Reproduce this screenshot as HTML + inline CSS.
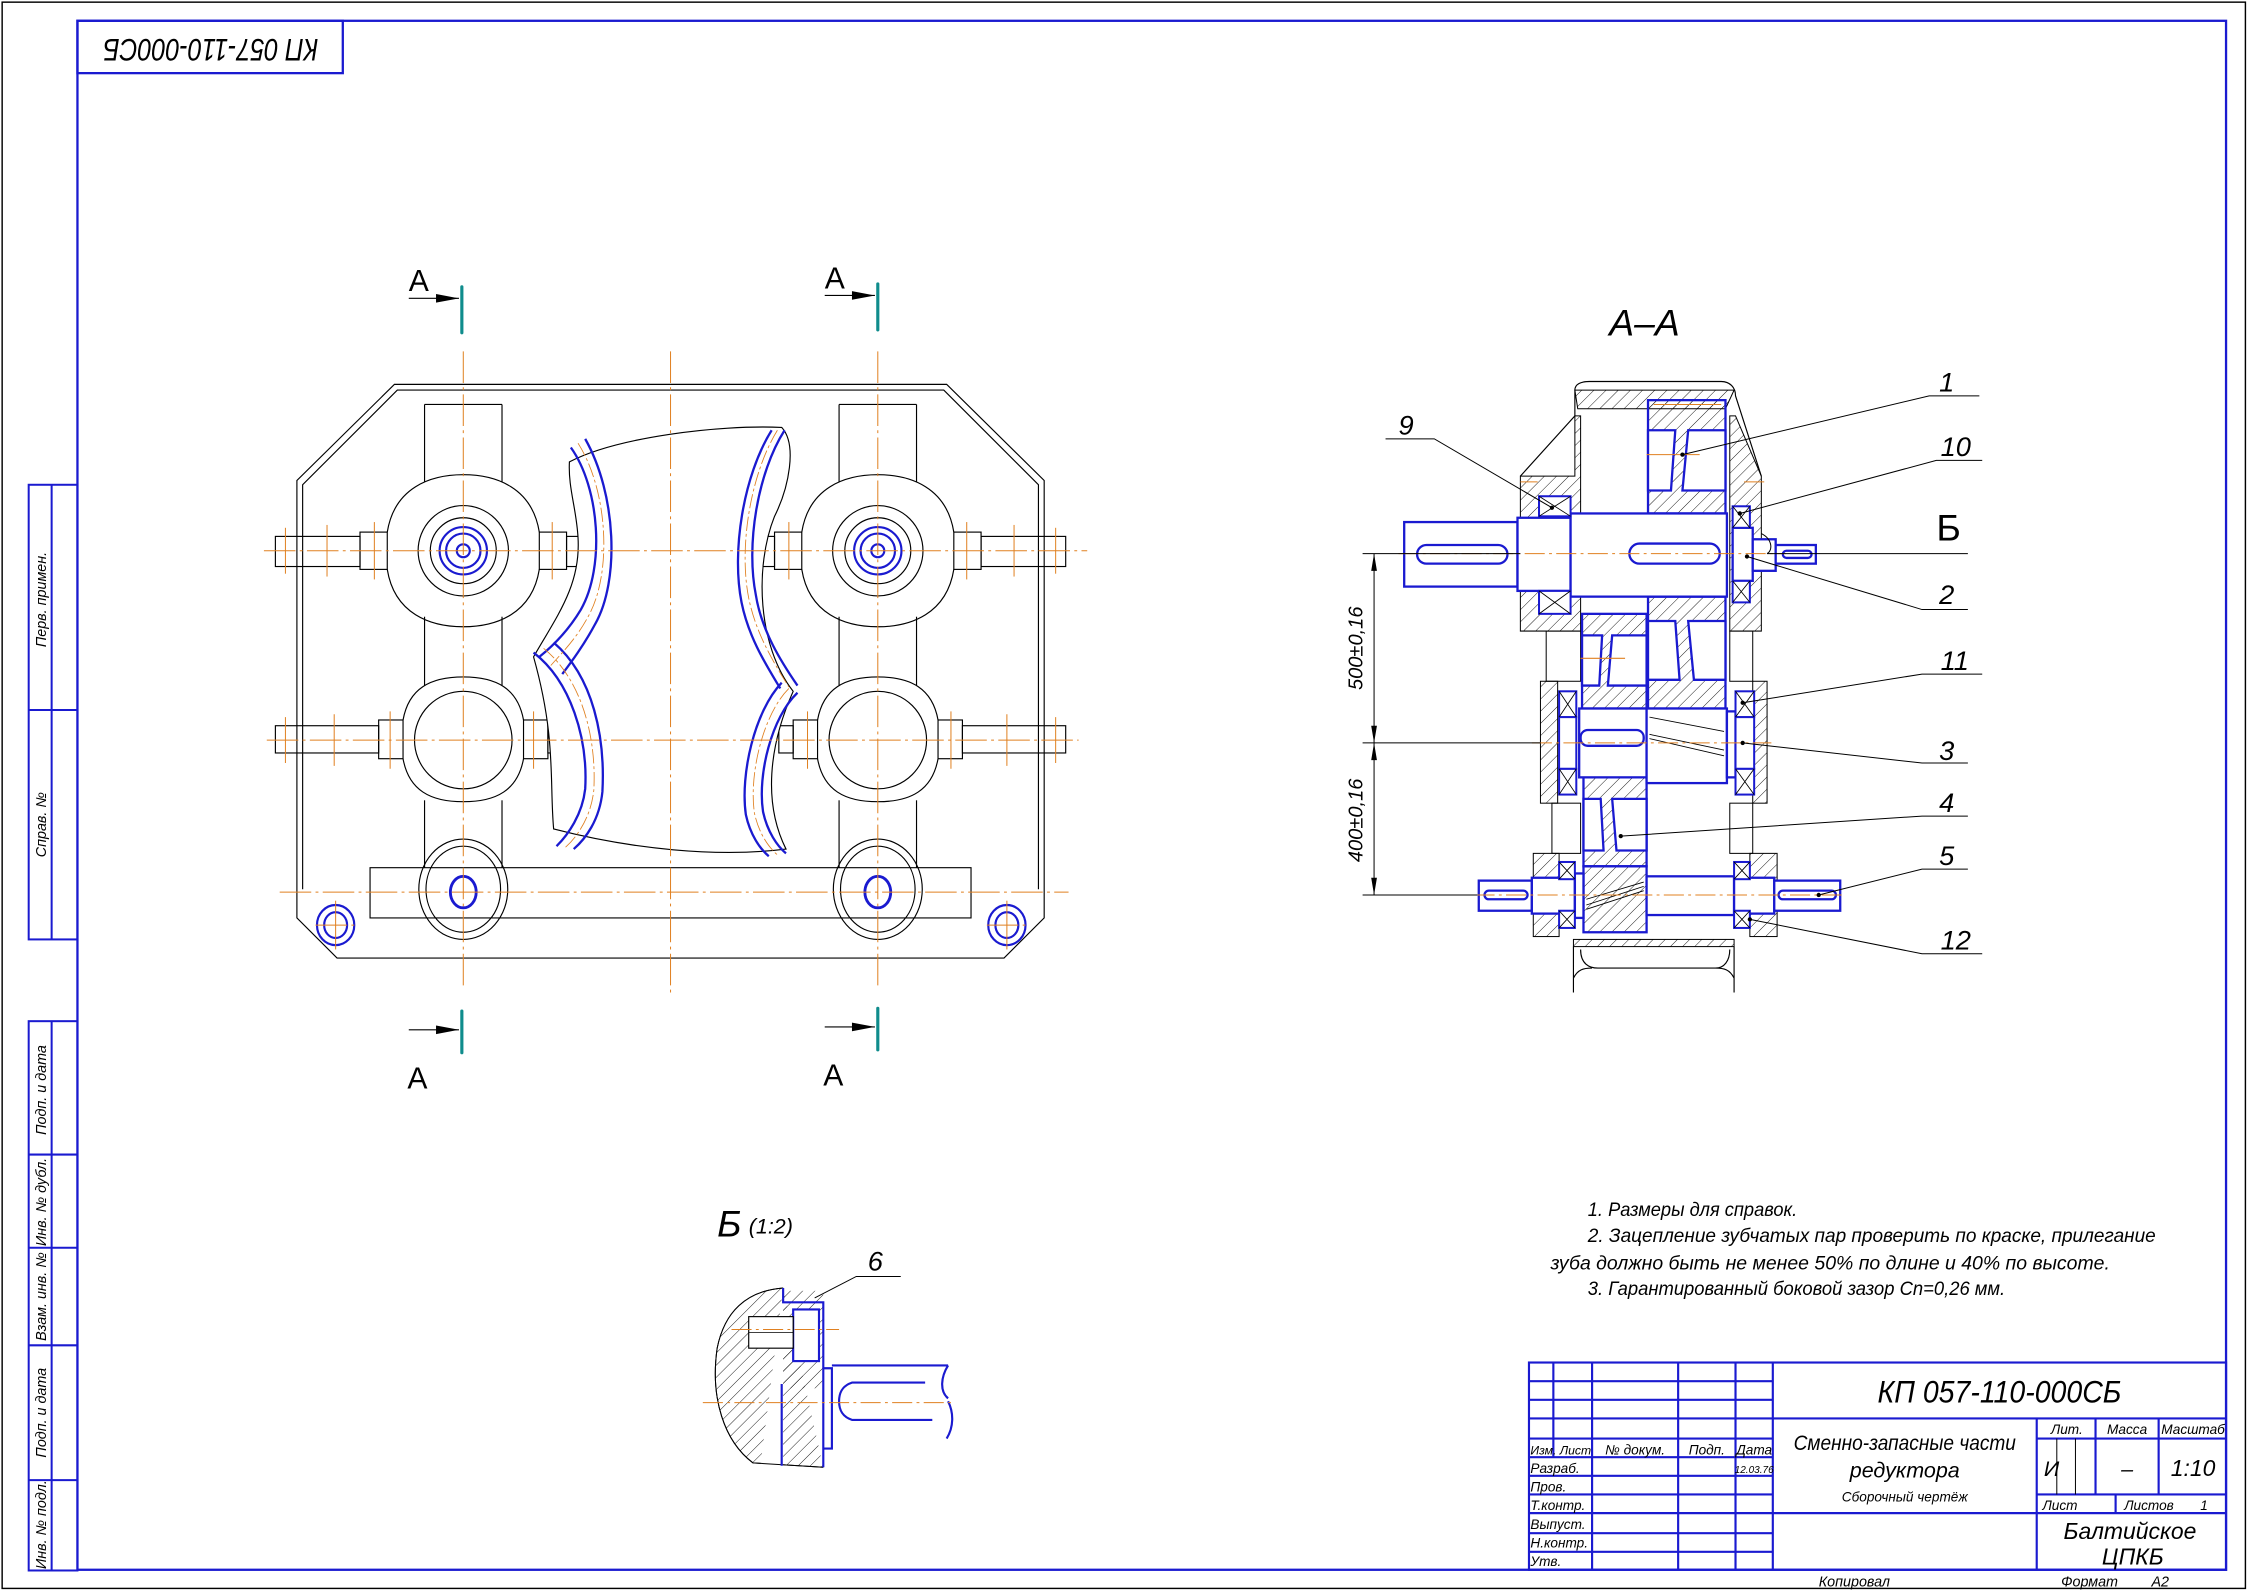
<!DOCTYPE html>
<html><head><meta charset="utf-8"><style>
html,body{margin:0;padding:0;background:#fff}
svg{display:block}
text{font-family:"Liberation Sans","DejaVu Sans",sans-serif;font-style:italic;fill:#000}
</style></head><body>
<svg width="2249" height="1592" viewBox="0 0 1568 1110" preserveAspectRatio="none" xmlns="http://www.w3.org/2000/svg">
<defs>
<pattern id="h" width="6" height="6" patternUnits="userSpaceOnUse" patternTransform="rotate(45)"><line x1="0" y1="0" x2="0" y2="6" stroke="#000" stroke-width="0.6"/></pattern>
</defs>
<rect x="0" y="0" width="1568" height="1110" fill="#fff"/>
<rect x="1.5" y="1.5" width="1564" height="1106" fill="none" stroke="#000" stroke-width="1"/>
<rect x="54" y="14.5" width="1498" height="1080" fill="none" stroke="#1a1ad0" stroke-width="1.6"/>
<rect x="54" y="14.5" width="185" height="36.5" fill="none" stroke="#1a1ad0" stroke-width="1.6"/>
<text transform="translate(147,33) rotate(180)" font-size="22" text-anchor="middle" dominant-baseline="middle" textLength="150" lengthAdjust="spacingAndGlyphs">КП 057-110-000СБ</text>

<g stroke="#1a1ad0" stroke-width="1.4" fill="none">
<rect x="20" y="338" width="34" height="317"/>
<line x1="36" y1="338" x2="36" y2="655"/>
<line x1="20" y1="495" x2="54" y2="495"/>
<rect x="20" y="712" width="34" height="383"/>
<line x1="36" y1="712" x2="36" y2="1095"/>
<line x1="20" y1="805" x2="54" y2="805"/>
<line x1="20" y1="870" x2="54" y2="870"/>
<line x1="20" y1="938" x2="54" y2="938"/>
<line x1="20" y1="1032" x2="54" y2="1032"/>
</g>
<g font-size="10">
<text transform="translate(32,418) rotate(-90)" text-anchor="middle">Перв. примен.</text>
<text transform="translate(32,575) rotate(-90)" text-anchor="middle">Справ. №</text>
<text transform="translate(32,760) rotate(-90)" text-anchor="middle">Подп. и дата</text>
<text transform="translate(32,838) rotate(-90)" text-anchor="middle">Инв. № дубл.</text>
<text transform="translate(32,904) rotate(-90)" text-anchor="middle">Взам. инв. №</text>
<text transform="translate(32,985) rotate(-90)" text-anchor="middle">Подп. и дата</text>
<text transform="translate(32,1063) rotate(-90)" text-anchor="middle">Инв. № подл.</text>
</g>

<!-- FRONT VIEW -->
<g id="half" fill="none" stroke="#000" stroke-width="0.8">
 <polyline points="467.5,268 275,268 207,335 207,640 235,668 467.5,668"/>
 <polyline points="467.5,272 277,272 211,338 211,620"/>
 <line x1="296" y1="282" x2="296" y2="336"/><line x1="350" y1="282" x2="350" y2="336"/>
 <line x1="296" y1="282" x2="350" y2="282"/>
 <line x1="296" y1="430" x2="296" y2="478"/><line x1="350" y1="430" x2="350" y2="478"/>
 <line x1="296" y1="558" x2="296" y2="605"/><line x1="350" y1="558" x2="350" y2="605"/>
 <path d="M270,371 C275,340 300,331 323,331 C346,331 371,340 376,371 M376,397 C371,428 346,437 323,437 C300,437 275,428 270,397"/>
 <rect x="251" y="371" width="19" height="26"/>
 <rect x="192" y="374" width="59" height="21"/>
 <rect x="376" y="371" width="19" height="26"/>
 <rect x="395" y="374" width="15" height="21"/>
 <circle cx="323" cy="384" r="31.5"/><circle cx="323" cy="384" r="23"/>
 <path d="M281,502 C285,480 300,472 323,472 C346,472 361,480 365,502 M365,529 C361,551 346,559 323,559 C300,559 285,551 281,529"/>
 <ellipse cx="323" cy="516" rx="34" ry="34"/>
 <rect x="264" y="502" width="17" height="27"/>
 <rect x="192" y="506" width="72" height="19"/>
 <rect x="365" y="502" width="17" height="27"/>
 <rect x="382" y="506" width="10" height="19"/>
 <polyline points="467.5,605 258,605 258,640 467.5,640"/>
 <ellipse cx="323" cy="620" rx="31" ry="35"/>
 <ellipse cx="323" cy="620" rx="26" ry="30"/>
</g>
<use href="#half" transform="matrix(-1 0 0 1 935 0)"/>
<g fill="none" stroke="#1a1ad0" stroke-width="1.5">
 <circle cx="323" cy="384" r="16.5"/><circle cx="323" cy="384" r="12"/><circle cx="323" cy="384" r="4.5"/>
 <circle cx="612" cy="384" r="16.5"/><circle cx="612" cy="384" r="12"/><circle cx="612" cy="384" r="4.5"/>
 <ellipse cx="323" cy="622" rx="9" ry="11" stroke-width="2"/>
 <ellipse cx="612" cy="622" rx="9" ry="11" stroke-width="2"/>
 <ellipse cx="234" cy="645" rx="13" ry="14"/><ellipse cx="234" cy="645" rx="8" ry="9"/>
 <ellipse cx="702" cy="645" rx="13" ry="14"/><ellipse cx="702" cy="645" rx="8" ry="9"/>
</g>
<!-- torn window -->
<path d="M397,322 C430,305 500,296 545,298 C556,310 550,340 540,360 C526,395 528,450 553,482 C536,520 532,560 548,592 C500,598 440,592 386,578 C383,545 388,515 372,458 C388,430 405,408 403,375 C402,355 396,340 397,322 Z" fill="#fff" stroke="#000" stroke-width="0.8"/>
<g fill="none" stroke="#1a1ad0" stroke-width="1.6">
 <path d="M398,312 C418,340 422,395 405,425 C396,440 386,450 376,458"/>
 <path d="M408,306 C430,345 432,405 415,435 C407,450 398,462 392,470"/>
 <path d="M372,455 C398,475 410,515 408,550 C406,568 396,582 388,590"/>
 <path d="M386,448 C414,472 422,515 420,552 C418,572 408,585 400,592"/>
 <path d="M547,300 C528,330 520,380 527,415 C531,440 545,462 556,478"/>
 <path d="M538,300 C518,332 510,385 517,420 C522,445 535,465 544,480"/>
 <path d="M556,483 C538,500 528,540 532,566 C535,580 542,590 548,595"/>
 <path d="M545,476 C526,496 516,540 520,568 C523,582 530,592 536,597"/>
</g>
<g fill="none" stroke="#e08020" stroke-width="0.6" stroke-dasharray="10 2 2 2">
 <path d="M403,309 C424,342 427,400 410,430 C402,445 392,455 384,464"/>
 <path d="M379,452 C406,474 416,515 414,551 C412,570 402,584 394,591"/>
 <path d="M542,300 C523,331 515,382 522,417 C527,442 540,463 550,479"/>
 <path d="M550,480 C532,498 522,540 526,567 C529,581 536,591 542,596"/>
</g>
<g stroke="#e08020" stroke-width="0.7" stroke-dasharray="22 3 2 3">
 <line x1="323" y1="245" x2="323" y2="690"/>
 <line x1="467.5" y1="245" x2="467.5" y2="692"/>
 <line x1="612" y1="245" x2="612" y2="690"/>
 <line x1="184" y1="384" x2="758" y2="384"/>
 <line x1="186" y1="516" x2="752" y2="516"/>
 <line x1="195" y1="622" x2="745" y2="622"/>
 <line x1="220" y1="645" x2="250" y2="645"/>
 <line x1="688" y1="645" x2="718" y2="645"/>
</g>
<g stroke="#e08020" stroke-width="0.7">
 <line x1="199" y1="368" x2="199" y2="400"/><line x1="228" y1="366" x2="228" y2="402"/><line x1="261" y1="364" x2="261" y2="404"/>
 <line x1="385" y1="364" x2="385" y2="404"/>
 <line x1="736" y1="368" x2="736" y2="400"/><line x1="707" y1="366" x2="707" y2="402"/><line x1="674" y1="364" x2="674" y2="404"/>
 <line x1="550" y1="364" x2="550" y2="404"/>
 <line x1="199" y1="500" x2="199" y2="532"/><line x1="233" y1="498" x2="233" y2="534"/><line x1="272" y1="496" x2="272" y2="536"/><line x1="372" y1="496" x2="372" y2="536"/>
 <line x1="736" y1="500" x2="736" y2="532"/><line x1="702" y1="498" x2="702" y2="534"/><line x1="663" y1="496" x2="663" y2="536"/><line x1="563" y1="496" x2="563" y2="536"/>
 <line x1="234" y1="628" x2="234" y2="662"/><line x1="702" y1="628" x2="702" y2="662"/>
</g>
<g stroke="#0f8c8c" stroke-width="2.2" stroke-linecap="round">
 <line x1="322" y1="200" x2="322" y2="232"/><line x1="612" y1="198" x2="612" y2="230"/>
 <line x1="322" y1="705" x2="322" y2="734"/><line x1="612" y1="703" x2="612" y2="732"/>
</g>
<g stroke="#000" stroke-width="0.8">
 <line x1="285" y1="208" x2="320" y2="208"/><line x1="575" y1="206" x2="610" y2="206"/>
 <line x1="285" y1="718" x2="320" y2="718"/><line x1="575" y1="716" x2="610" y2="716"/>
</g>
<g fill="#000">
 <polygon points="320,208 304,205 304,211"/><polygon points="610,206 594,203 594,209"/>
 <polygon points="320,718 304,715 304,721"/><polygon points="610,716 594,713 594,719"/>
</g>
<g font-size="21">
 <text x="285" y="203" style="font-style:normal">А</text><text x="575" y="201" style="font-style:normal">А</text>
 <text x="284" y="759" style="font-style:normal">А</text><text x="574" y="757" style="font-style:normal">А</text>
</g>

<!-- SECTION A-A -->
<text x="1122" y="234" font-size="26">А–А</text>
<g fill="url(#h)" stroke="#000" stroke-width="0.7">
 <path d="M1098,272 L1100,285 L1203,285 L1209,272 Z"/>
 <path d="M1060,332 L1098,332 L1098,290 L1102,290 L1102,440 L1060,440 Z"/>
 <path d="M1206,290 L1210,290 L1228,332 L1228,440 L1206,440 Z"/>
 <rect x="1074" y="475" width="12" height="85"/>
 <rect x="1222" y="475" width="10" height="85"/>
 <rect x="1069" y="595" width="18" height="58"/>
 <rect x="1220" y="595" width="19" height="58"/>
 <rect x="1097" y="655" width="112" height="5"/>
 <rect x="1078" y="440" width="24" height="35" fill="none"/>
 <rect x="1206" y="440" width="16" height="35" fill="none"/>
 <rect x="1082" y="560" width="20" height="35" fill="none"/>
 <rect x="1206" y="560" width="16" height="35" fill="none"/>
</g>
<path d="M1060,332 L1098,290 L1098,272 C1098,268 1102,266 1108,266 L1200,266 C1206,266 1210,270 1210,276 L1228,332" fill="none" stroke="#000" stroke-width="0.8"/>
<path d="M1097,660 L1097,692 M1209,660 L1209,692 M1102,662 C1102,672 1108,675 1114,675 L1196,675 C1202,675 1206,670 1206,662 M1097,682 C1100,676 1104,675 1110,675 M1209,682 C1206,676 1202,675 1196,675" fill="none" stroke="#000" stroke-width="0.8"/>
<g fill="url(#h)" stroke="#1a1ad0" stroke-width="1.6">
 <rect x="1149" y="279" width="54" height="79"/>
 <rect x="1103" y="428" width="45" height="66"/>
 <rect x="1149" y="416" width="54" height="78"/>
 <rect x="1104" y="542" width="44" height="62"/>
 <rect x="1104" y="604" width="44" height="46"/>
</g>
<g fill="#fff" stroke="#1a1ad0" stroke-width="1.6">
 <path d="M1149,300 L1168,300 L1165,342 L1149,342 Z"/>
 <path d="M1177,300 L1203,300 L1203,342 L1173,342 Z"/>
 <path d="M1103,443 L1117,443 L1115,478 L1103,478 Z"/>
 <path d="M1124,443 L1148,443 L1148,478 L1121,478 Z"/>
 <path d="M1149,433 L1168,433 L1171,474 L1149,474 Z"/>
 <path d="M1177,433 L1203,433 L1203,474 L1181,474 Z"/>
 <path d="M1104,557 L1116,557 L1118,593 L1104,593 Z"/>
 <path d="M1124,557 L1148,557 L1148,593 L1127,593 Z"/>
 <rect x="979" y="364" width="79" height="45"/>
 <rect x="1058" y="361" width="37" height="51"/>
 <rect x="1095" y="358" width="109" height="58"/>
 <rect x="1208" y="368" width="14" height="37"/>
 <rect x="1222" y="376" width="16" height="22"/>
 <rect x="1238" y="380" width="28" height="13"/>
 <rect x="1101" y="494" width="47" height="48"/>
 <rect x="1148" y="494" width="56" height="52"/>
 <rect x="1204" y="496" width="6" height="46"/>
 <rect x="1031" y="614" width="37" height="21"/>
 <rect x="1068" y="612" width="30" height="25"/>
 <rect x="1098" y="609" width="6" height="31"/>
 <rect x="1148" y="611" width="61" height="27"/>
 <rect x="1209" y="612" width="28" height="25"/>
 <rect x="1237" y="614" width="46" height="21"/>
</g>
<g fill="none" stroke="#1a1ad0" stroke-width="1.6">
 <rect x="988" y="380" width="63" height="13" rx="6.5"/>
 <rect x="1136" y="379" width="63" height="14" rx="7"/>
 <rect x="1102" y="509" width="44" height="11" rx="5"/>
 <rect x="1035" y="621" width="30" height="6" rx="3"/>
 <rect x="1240" y="621" width="40" height="6" rx="3"/>
 <rect x="1243" y="384" width="20" height="5" rx="2.5"/>
</g>
<g stroke="#000" stroke-width="0.6" fill="none">
 <path d="M1150,500 L1202,510 M1150,512 L1202,523 M1150,515 L1202,527"/>
 <path d="M1106,631 L1146,618 M1106,634 L1146,621 M1106,627 L1146,615"/>
</g>
<g fill="#fff" stroke="#1a1ad0" stroke-width="1.4">
 <rect x="1073" y="346" width="22" height="14"/><rect x="1073" y="412" width="22" height="16"/>
 <rect x="1208" y="353" width="12" height="15"/><rect x="1208" y="405" width="12" height="15"/>
 <rect x="1087" y="482" width="12" height="18"/><rect x="1087" y="536" width="12" height="18"/>
 <rect x="1087" y="500" width="12" height="36"/>
 <rect x="1210" y="482" width="13" height="18"/><rect x="1210" y="536" width="13" height="18"/>
 <rect x="1210" y="500" width="13" height="36"/>
 <rect x="1087" y="601" width="11" height="12"/><rect x="1087" y="635" width="11" height="12"/>
 <rect x="1209" y="601" width="11" height="12"/><rect x="1209" y="635" width="11" height="12"/>
</g>
<g stroke="#000" stroke-width="0.6">
 <path d="M1073,346 L1095,360 M1095,346 L1073,360 M1073,412 L1095,428 M1095,412 L1073,428"/>
 <path d="M1087,482 L1099,500 M1099,482 L1087,500 M1087,536 L1099,554 M1099,536 L1087,554"/>
 <path d="M1210,482 L1223,500 M1223,482 L1210,500 M1210,536 L1223,554 M1223,536 L1210,554"/>
 <path d="M1208,353 L1220,368 M1220,353 L1208,368 M1208,405 L1220,420 M1220,405 L1208,420"/>
 <path d="M1087,601 L1098,613 M1098,601 L1087,613 M1087,635 L1098,647 M1098,635 L1087,647"/>
 <path d="M1209,601 L1220,613 M1220,601 L1209,613 M1209,635 L1220,647 M1220,635 L1209,647"/>
</g>
<g stroke="#e08020" stroke-width="0.7" stroke-dasharray="14 3 2 3">
 <line x1="975" y1="386" x2="1245" y2="386"/>
 <line x1="1068" y1="518" x2="1235" y2="518"/>
 <line x1="1028" y1="624" x2="1285" y2="624"/>
</g>
<g stroke="#e08020" stroke-width="0.7">
 <line x1="1148" y1="317" x2="1185" y2="317"/><line x1="1102" y1="459" x2="1133" y2="459"/>
 <line x1="1153" y1="282" x2="1200" y2="282"/><line x1="1060" y1="336" x2="1072" y2="336"/><line x1="1216" y1="336" x2="1230" y2="336"/>
</g>
<g stroke="#000" stroke-width="0.7" fill="none">
 <line x1="950" y1="386" x2="1060" y2="386"/>
 <line x1="950" y1="518" x2="1074" y2="518"/>
 <line x1="950" y1="624" x2="1030" y2="624"/>
 <line x1="958" y1="386" x2="958" y2="624"/>
</g>
<g fill="#000">
 <polygon points="958,386 956,398 960,398"/><polygon points="958,518 956,506 960,506"/>
 <polygon points="958,518 956,530 960,530"/><polygon points="958,624 956,612 960,612"/>
</g>
<text transform="translate(950,452) rotate(-90)" font-size="14" text-anchor="middle">500±0,16</text>
<text transform="translate(950,572) rotate(-90)" font-size="14" text-anchor="middle">400±0,16</text>
<g stroke="#000" stroke-width="0.7" fill="none">
 <polyline points="1173,317 1345,276 1380,276"/>
 <polyline points="1213,358 1350,321 1382,321"/>
 <path d="M1228,372 C1236,376 1236,384 1232,386 L1340,386 L1372,386"/>
 <polyline points="1218,388 1340,425 1372,425"/>
 <polyline points="1215,490 1340,470 1382,470"/>
 <polyline points="1215,518 1340,532 1372,532"/>
 <polyline points="1130,583 1340,569 1372,569"/>
 <polyline points="1268,624 1340,606 1372,606"/>
 <polyline points="1220,641 1340,665 1382,665"/>
 <polyline points="966,306 1000,306 1082,354"/>
</g>
<g fill="#000"><circle cx="1173" cy="317" r="1.5"/><circle cx="1213" cy="358" r="1.5"/><circle cx="1218" cy="388" r="1.5"/><circle cx="1215" cy="490" r="1.5"/><circle cx="1215" cy="518" r="1.5"/><circle cx="1130" cy="583" r="1.5"/><circle cx="1268" cy="624" r="1.5"/><circle cx="1220" cy="641" r="1.5"/><circle cx="1082" cy="354" r="1.5"/></g>
<g font-size="19">
 <text x="1352" y="273">1</text><text x="1353" y="318">10</text>
 <text x="1350" y="377" font-size="26" style="font-style:normal">Б</text>
 <text x="1352" y="421">2</text><text x="1353" y="467">11</text>
 <text x="1352" y="530">3</text><text x="1352" y="566">4</text>
 <text x="1352" y="603">5</text><text x="1353" y="662">12</text>
 <text x="975" y="303">9</text>
</g>

<!-- VIEW Б -->
<text x="500" y="862" font-size="26">Б</text>
<text x="522" y="860" font-size="15">(1:2)</text>
<path d="M546,898 C520,900 505,915 500,940 C495,975 505,1005 525,1020 L574,1023" fill="url(#h)" stroke="#000" stroke-width="0.7"/>
<path d="M546,898 L546,1023 L530,1023" fill="#fff" stroke="none"/>
<path d="M546,898 C520,900 505,915 500,940 C495,975 505,1005 525,1020 L574,1023" fill="none" stroke="#000" stroke-width="0.7"/>
<rect x="546" y="900" width="28" height="68" fill="url(#h)" stroke="none"/>
<g fill="none" stroke="#1a1ad0" stroke-width="1.5">
 <polyline points="546,898 546,908 574,908 574,1023"/>
 <line x1="545" y1="965" x2="545" y2="1022"/>
 <rect x="553" y="913" width="18" height="36" fill="#fff"/>
 <polyline points="574,954 580,954 580,1010 574,1010"/>
 <polyline points="580,952 661,952 M580,1003 L660,1003"/>
 <path d="M661,952 C656,960 655,970 661,975 M660,1003 C665,995 665,985 661,977"/>
 <path d="M645,964 L594,964 C588,966 585,970 585,977 C585,984 588,988 594,990 L650,990"/>
</g>
<rect x="522" y="918" width="31" height="22" fill="#fff" stroke="#000" stroke-width="0.8"/>
<line x1="522" y1="929" x2="553" y2="929" stroke="#000" stroke-width="0.5"/>
<g stroke="#e08020" stroke-width="0.7" stroke-dasharray="14 3 2 3">
 <line x1="510" y1="927" x2="585" y2="927"/>
 <line x1="490" y1="978" x2="665" y2="978"/>
</g>
<polyline points="568,905 597,890 628,890" fill="none" stroke="#000" stroke-width="0.7"/>
<text x="605" y="886" font-size="19">6</text>

<!-- NOTES -->
<g font-size="13.5">
 <text x="1107" y="848" textLength="146" lengthAdjust="spacingAndGlyphs">1. Размеры для справок.</text>
 <text x="1107" y="866" textLength="396" lengthAdjust="spacingAndGlyphs">2. Зацепление зубчатых пар проверить по краске, прилегание</text>
 <text x="1081" y="885" textLength="390" lengthAdjust="spacingAndGlyphs">зуба должно быть не менее 50% по длине и 40% по высоте.</text>
 <text x="1107" y="903" textLength="291" lengthAdjust="spacingAndGlyphs">3. Гарантированный боковой зазор Cn=0,26 мм.</text>
</g>

<!-- TITLE BLOCK -->
<g fill="none" stroke="#1a1ad0" stroke-width="1.5">
 <rect x="1066" y="950" width="486" height="144.5"/>
 <line x1="1066" y1="963" x2="1236" y2="963"/>
 <line x1="1066" y1="976" x2="1236" y2="976"/>
 <line x1="1066" y1="989" x2="1552" y2="989"/>
 <line x1="1066" y1="1003" x2="1236" y2="1003"/>
 <line x1="1066" y1="1016" x2="1236" y2="1016"/>
 <line x1="1066" y1="1029" x2="1236" y2="1029"/>
 <line x1="1066" y1="1042" x2="1236" y2="1042"/>
 <line x1="1066" y1="1055" x2="1552" y2="1055"/>
 <line x1="1066" y1="1069" x2="1236" y2="1069"/>
 <line x1="1066" y1="1082" x2="1236" y2="1082"/>
 <line x1="1083" y1="950" x2="1083" y2="1016"/>
 <line x1="1110" y1="950" x2="1110" y2="1094"/>
 <line x1="1170" y1="950" x2="1170" y2="1094"/>
 <line x1="1210" y1="950" x2="1210" y2="1094"/>
 <line x1="1236" y1="950" x2="1236" y2="1094"/>
 <line x1="1420" y1="989" x2="1420" y2="1094"/>
 <line x1="1461" y1="989" x2="1461" y2="1042"/>
 <line x1="1505" y1="989" x2="1505" y2="1042"/>
 <line x1="1420" y1="1003" x2="1552" y2="1003"/>
 <line x1="1420" y1="1042" x2="1552" y2="1042"/>
 <line x1="1475" y1="1042" x2="1475" y2="1055"/>
</g>
<g fill="none" stroke="#000" stroke-width="0.7">
 <line x1="1434" y1="1003" x2="1434" y2="1042"/>
 <line x1="1447" y1="1003" x2="1447" y2="1042"/>
</g>
<text x="1394" y="978" font-size="22" text-anchor="middle" textLength="170" lengthAdjust="spacingAndGlyphs">КП 057-110-000СБ</text>
<text x="1328" y="1011" font-size="15" text-anchor="middle" textLength="155" lengthAdjust="spacingAndGlyphs">Сменно-запасные части</text>
<text x="1328" y="1030" font-size="15" text-anchor="middle">редуктора</text>
<text x="1328" y="1047" font-size="9.5" text-anchor="middle">Сборочный чертёж</text>
<g font-size="9.5">
 <text x="1441" y="1000" text-anchor="middle">Лит.</text>
 <text x="1483" y="1000" text-anchor="middle">Масса</text>
 <text x="1529" y="1000" text-anchor="middle">Масштаб</text>
 <text x="1424" y="1053">Лист</text>
 <text x="1481" y="1053">Листов</text>
 <text x="1534" y="1053">1</text>
 <text x="1067" y="1014" font-size="8.5">Изм. Лист</text>
 <text x="1140" y="1014" text-anchor="middle">№ докум.</text>
 <text x="1190" y="1014" text-anchor="middle">Подп.</text>
 <text x="1223" y="1014" text-anchor="middle">Дата</text>
 <text x="1067" y="1027">Разраб.</text>
 <text x="1067" y="1040">Пров.</text>
 <text x="1067" y="1053">Т.контр.</text>
 <text x="1067" y="1066">Выпуст.</text>
 <text x="1067" y="1079">Н.контр.</text>
 <text x="1067" y="1092">Утв.</text>
 <text x="1223" y="1027" font-size="7" text-anchor="middle">12.03.76</text>
</g>
<text x="1425" y="1029" font-size="15">И</text>
<text x="1483" y="1029" font-size="15" text-anchor="middle">–</text>
<text x="1529" y="1029" font-size="16" text-anchor="middle">1:10</text>
<text x="1485" y="1073" font-size="16" text-anchor="middle">Балтийское</text>
<text x="1487" y="1091" font-size="16" text-anchor="middle">ЦПКБ</text>
<text x="1268" y="1106" font-size="10">Копировал</text>
<text x="1437" y="1106" font-size="10">Формат</text>
<text x="1500" y="1106" font-size="10">A2</text>
</svg>
</body></html>
